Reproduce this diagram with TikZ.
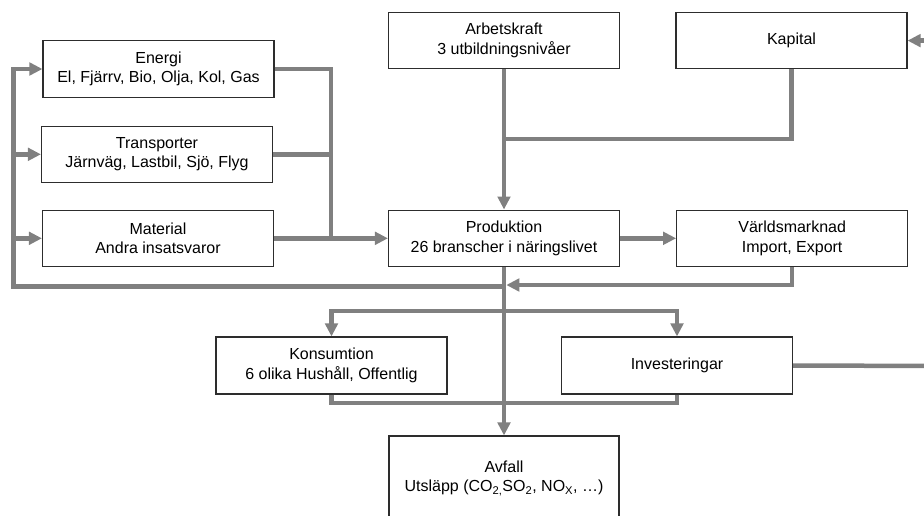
\documentclass[tikz,border=0pt]{standalone}
\usepackage{fontspec}
\setmainfont{Liberation Sans}
\usetikzlibrary{arrows.meta,calc}
\definecolor{flowgray}{RGB}{128,128,128}
\definecolor{boxline}{RGB}{45,45,45}
\tikzset{
  box/.style={draw=boxline, line width=1.1pt, fill=white, align=center, inner sep=0pt,
              font=\fontsize{16}{19.5}\selectfont},
  flow/.style={draw=flowgray, line width=4.5pt},
  arr/.style={-{Triangle[length=13pt,width=12.5pt]}},
}
\begin{document}
\begin{tikzpicture}[x=1pt,y=-1pt]
\useasboundingbox (0,0) rectangle (924,515);
% boxes
\node[box, minimum width=231pt, minimum height=56.5pt] (energi) at (158.5,69) {Energi\\El, Fjärrv, Bio, Olja, Kol, Gas};
\node[box, minimum width=231pt, minimum height=56.5pt] (transp) at (157,154.3) {Transporter\\Järnväg, Lastbil, Sjö, Flyg};
\node[box, minimum width=231pt, minimum height=56.5pt] (mat) at (158,238.3) {Material\\Andra insatsvaror};
\node[box, minimum width=231pt, minimum height=56.5pt] (arb) at (504,40.6) {Arbetskraft\\3 utbildningsnivåer};
\node[box, minimum width=231pt, minimum height=56.5pt] (kap) at (791.5,40.6) {Kapital};
\node[box, minimum width=231pt, minimum height=56.5pt] (prod) at (504,238.3) {Produktion\\26 branscher i näringslivet};
\node[box, minimum width=231pt, minimum height=56.5pt] (varld) at (792.2,238.3) {Världsmarknad\\Import, Export};
\node[box, minimum width=231pt, minimum height=57pt] (kons) at (331.5,365.5) {Konsumtion\\6 olika Hushåll, Offentlig};
\node[box, minimum width=231pt, minimum height=57pt] (inv) at (677,365.5) {Investeringar};
\node[box, minimum width=230pt, minimum height=84pt] (avf) at (504,478) {Avfall\\Utsläpp (CO\textsubscript{2,}SO\textsubscript{2}, NO\textsubscript{X}, …)};
% helper coordinates
\coordinate (lx) at (13.3,0);
\coordinate (mx) at (331,0);
\coordinate (fb) at (504,286.5);
\coordinate (kj) at (504,139);
\coordinate (vr) at (506.3,285);
\coordinate (sp) at (504,311);
\coordinate (mb) at (504,403);
\coordinate (iout) at (940,366);
\coordinate (kin) at (940,40.6);
% connectors
\draw[flow,arr] (prod.south) -- (avf.north);
\draw[flow,arr] (fb) -- (fb -| lx) |- (energi.west);
\draw[flow,arr] (lx |- transp.west) -- (transp.west);
\draw[flow,arr] (lx |- mat.west) -- (mat.west);
\draw[flow] (energi.east) -| (mx |- mat.east);
\draw[flow] (transp.east) -- (mx |- transp.east);
\draw[flow,arr] (mat.east) -- (prod.west);
\draw[flow,arr] (arb.south) -- (prod.north);
\draw[flow] (kap.south) |- (kj);
\draw[flow,arr] (prod.east) -- (varld.west);
\draw[flow,arr] (varld.south) |- (vr);
\draw[flow,arr] (sp) -| (kons.north);
\draw[flow,arr] (sp) -| (inv.north);
\draw[flow] (kons.south) |- (mb);
\draw[flow] (inv.south) |- (mb);
\draw[flow] (inv.east) -- (iout);
\draw[flow,arr] (kin) -- (kap.east);
\end{tikzpicture}
\end{document}
